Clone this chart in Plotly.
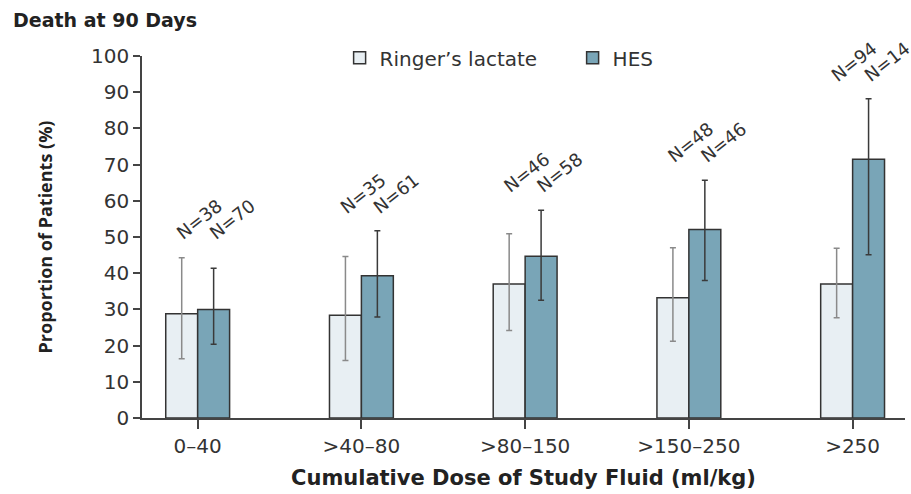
import plotly.graph_objects as go

categories = ["0–40", ">40–80", ">80–150", ">150–250", ">250"]
rl_values = [28.8, 28.4, 37.0, 33.2, 37.0]
rl_upper = [44.3, 44.6, 50.9, 47.0, 46.9]
rl_lower = [16.4, 15.9, 24.2, 21.2, 27.7]
hes_values = [30.0, 39.3, 44.7, 52.1, 71.5]
hes_upper = [41.4, 51.7, 57.4, 65.7, 88.2]
hes_lower = [20.4, 27.9, 32.5, 38.0, 45.1]
rl_n = [38, 35, 46, 48, 94]
hes_n = [70, 61, 58, 46, 14]
y_ticks = [0, 10, 20, 30, 40, 50, 60, 70, 80, 90, 100]

FONT = "DejaVu Sans"
DARK = "#333333"

fig = go.Figure()
fig.add_trace(go.Bar(
    x=categories, y=rl_values, name="Ringer’s lactate",
    marker=dict(color="#e8eff3", line=dict(color=DARK, width=1.5)),
    error_y=dict(type="data", symmetric=False,
                 array=[u - v for u, v in zip(rl_upper, rl_values)],
                 arrayminus=[v - l for v, l in zip(rl_values, rl_lower)],
                 color="#8a8a8a", thickness=1.5, width=3),
))
fig.add_trace(go.Bar(
    x=categories, y=hes_values, name="HES",
    marker=dict(color="#79a5b7", line=dict(color=DARK, width=1.5)),
    error_y=dict(type="data", symmetric=False,
                 array=[u - v for u, v in zip(hes_upper, hes_values)],
                 arrayminus=[v - l for v, l in zip(hes_values, hes_lower)],
                 color="#3a3a3a", thickness=1.5, width=3),
))

for i, c in enumerate(categories):
    ytop = max(rl_upper[i], hes_upper[i]) + 3
    for n, shift in ((rl_n[i], -28), (hes_n[i], 5)):
        fig.add_annotation(x=c, y=ytop, text=f"N={n}", showarrow=False,
                           textangle=-38, xanchor="left", yanchor="bottom",
                           xshift=shift, font=dict(family=FONT, size=18, color=DARK))

fig.add_annotation(xref="paper", yref="paper", x=-0.172, y=1.099, xanchor="left",
                   yanchor="middle", text="<b>Death at 90 Days</b>", showarrow=False,
                   font=dict(family=FONT, size=19, color="#222222"))

fig.update_layout(
    width=911, height=494,
    margin=dict(l=142, r=6, t=56, b=76),
    plot_bgcolor="white", paper_bgcolor="white",
    barmode="group", bargap=0.61, bargroupgap=0,
    font=dict(family=FONT, color=DARK),
    showlegend=True,
    legend=dict(orientation="h", x=0.259, y=0.995, xanchor="left", yanchor="middle",
                font=dict(family=FONT, size=20, color=DARK), itemwidth=30,
                entrywidth=188, entrywidthmode="pixels",
                bgcolor="rgba(0,0,0,0)"),
    xaxis=dict(range=[-0.34, 4.32], showline=True, linecolor="#444444", linewidth=1.5,
               ticks="outside", ticklen=9, tickcolor="#444444", tickwidth=1.5,
               tickfont=dict(family=FONT, size=20, color=DARK),
               title=dict(text="<b>Cumulative Dose of Study Fluid (ml/kg)</b>", standoff=14,
                          font=dict(family=FONT, size=21, color="#222222")),
               showgrid=False, zeroline=False),
    yaxis=dict(range=[0, 100], tickvals=y_ticks, showline=True, linecolor="#444444",
               linewidth=1.5, ticks="outside", ticklen=7, tickcolor="#444444", tickwidth=1.5,
               tickfont=dict(family=FONT, size=20, color=DARK),
               title=dict(text="<b>Proportion of Patients (%)</b>", standoff=34,
                          font=dict(family="Open Sans", size=18, color="#222222")),
               showgrid=False, zeroline=False),
)

fig.write_html("out.html")
